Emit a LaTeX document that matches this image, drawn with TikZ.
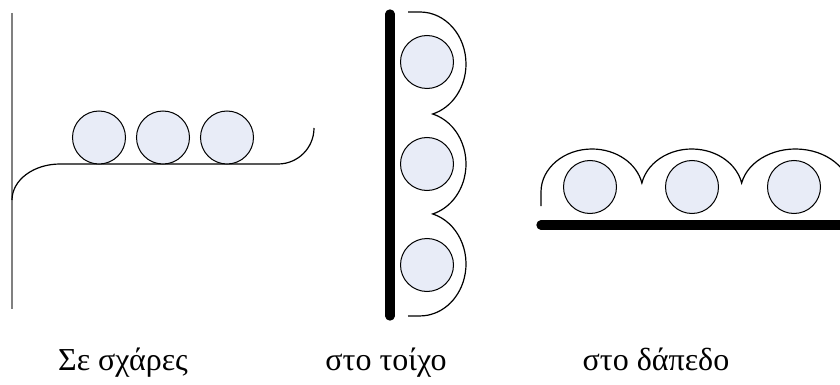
\documentclass[tikz,border=0pt]{standalone}
\usepackage{fontspec}
\setmainfont{Liberation Serif}
\definecolor{ballfill}{RGB}{232,236,247}

\begin{document}
\begin{tikzpicture}[x=0.75pt, y=0.75pt]
        \tikzset{Ball/.style={shape=circle, draw=black, fill=ballfill,
            line width=0.75pt, minimum size=39.75pt, inner sep=0pt}}
        \tikzset{Rope/.style={draw=black, line width=0.9pt}}
        \tikzset{Heavy/.style={draw=black, line width=7pt, line cap=round}}
        \tikzset{Caption/.style={font=\fontsize{24}{28}\selectfont,
            anchor=base, inner sep=0pt}}

        \useasboundingbox (0,0) rectangle (840,-385);
        \clip (0,0) rectangle (840,-385);

        % tray
        \draw[gray, line width=1.3pt] (12,-13) -- (12,-309);
        \draw[Rope] (12,-200) arc[start angle=180, end angle=90, x radius=48, y radius=36]
          -- (278,-164) arc[start angle=270, end angle=360, radius=36];
        \node[Ball] (g1) at (99,-137.5) {};
        \node[Ball] (g2) at (163,-137.5) {};
        \node[Ball] (g3) at (227,-137.5) {};

        % wall
        \draw[Heavy] (390,-14) -- (390,-316);
        \draw[Rope] (408,-12) -- (420,-12)
          arc[start angle=90, end angle=-74, x radius=46, y radius=52]
          arc[start angle=74, end angle=-74, x radius=46, y radius=52]
          arc[start angle=74, end angle=-90, x radius=46, y radius=52]
          -- (408,-316);
        \node[Ball] (w1) at (427,-62) {};
        \node[Ball] (w2) at (427,-164) {};
        \node[Ball] (w3) at (427,-265) {};

        % floor
        \draw[Heavy] (541,-225) -- (860,-225);
        \draw[Rope] (541,-206) -- (541,-192)
          arc[start angle=180, end angle=12, x radius=51, y radius=43]
          arc[start angle=168, end angle=12, x radius=51, y radius=43]
          arc[start angle=168, end angle=-10, x radius=55, y radius=43];
        \node[Ball] (f1) at (590,-187) {};
        \node[Ball] (f2) at (692,-187) {};
        \node[Ball] (f3) at (794,-187) {};

        \node[Caption] (grill) at (123,-370) {Σε σχάρες};
        \node[Caption] (wall) at (386,-370) {στο τοίχο};
        \node[Caption] (floor) at (656,-370) {στο δάπεδο};
      \end{tikzpicture}
\end{document}
